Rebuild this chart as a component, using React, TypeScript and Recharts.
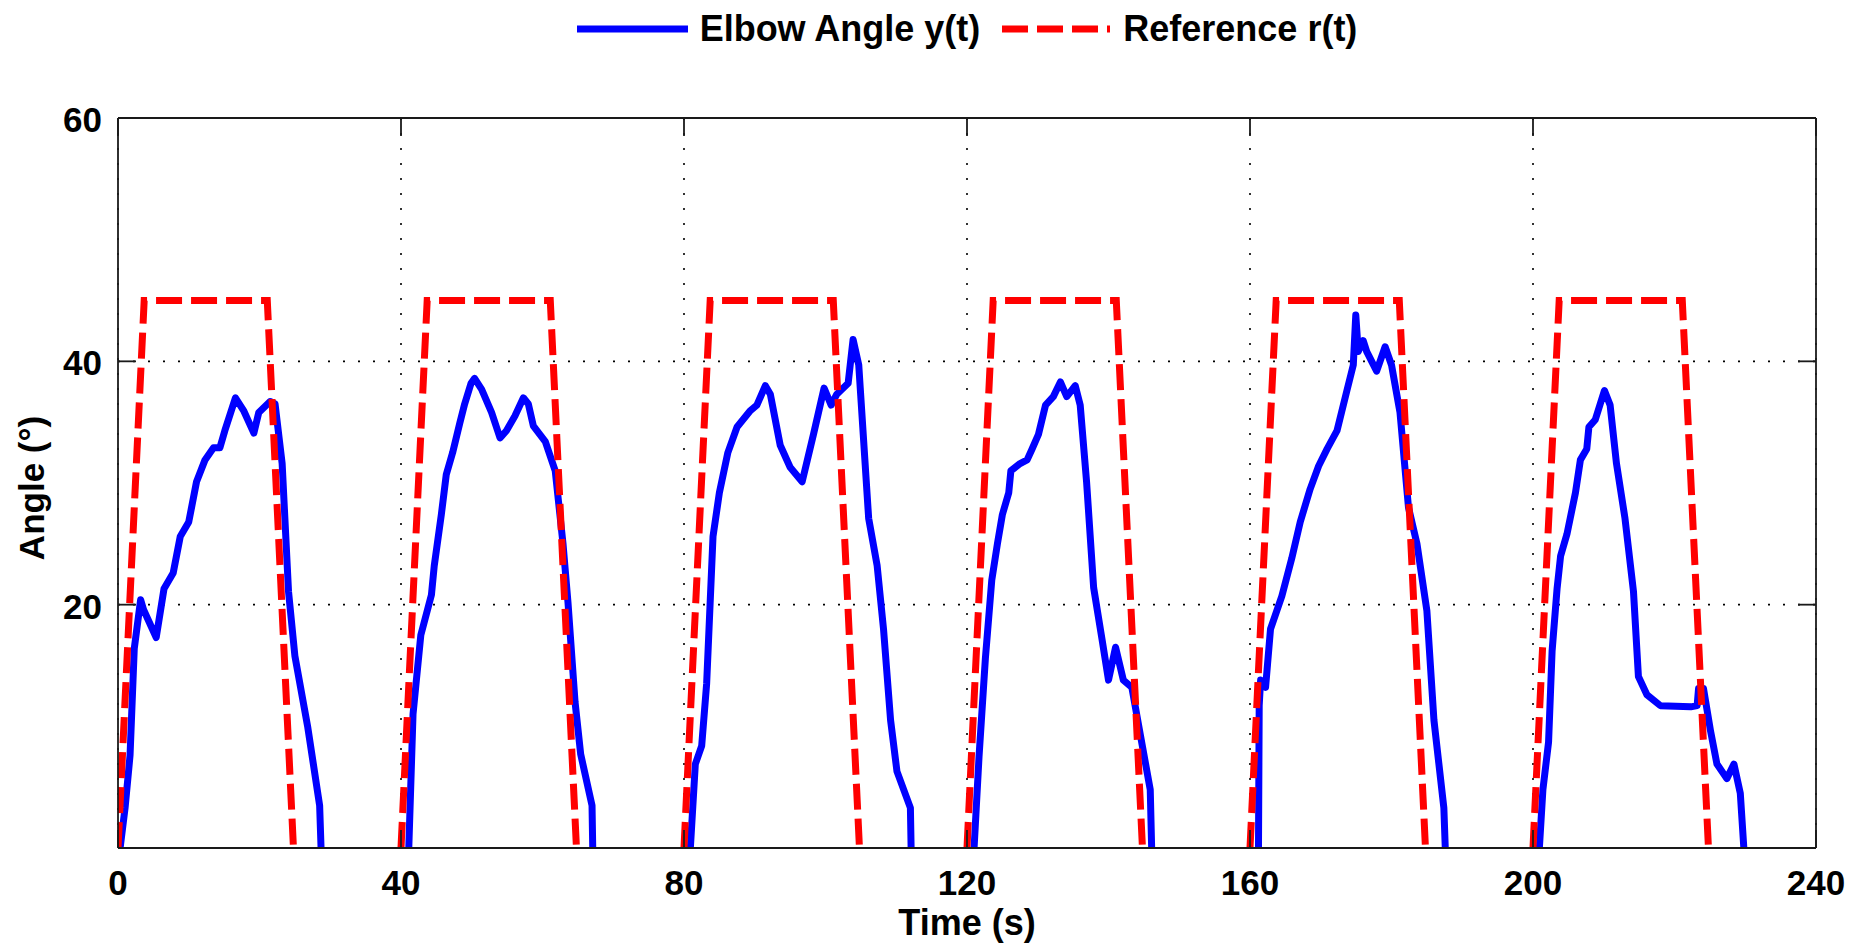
import React from 'react';
import { LineChart, Line, XAxis, YAxis, CartesianGrid, Legend } from 'recharts';

// ---- axis ticks ----
const xTicks = [0, 40, 80, 120, 160, 200, 240];
const yTicks = [0, 20, 40, 60];

// ---- Elbow Angle y(t), one pair of arrays per movement cycle ----
const cycle1Time = [0.3, 1.0, 1.7, 2.3, 3.2, 3.6, 5.4, 6.5, 7.8, 8.8, 10.0, 11.1, 12.3, 13.5, 14.4, 15.1, 16.6, 17.8, 19.2, 19.9, 21.5, 22.2, 23.2, 24.1, 25.0, 26.8, 28.5, 28.7];
const cycle1Angle = [0, 3.3, 7.6, 16.4, 20.4, 19.6, 17.3, 21.3, 22.6, 25.6, 26.8, 30.1, 31.9, 32.9, 32.9, 34.3, 37.0, 35.9, 34.1, 35.8, 36.7, 36.5, 31.6, 21.1, 15.8, 10.0, 3.5, 0];

const cycle2Time = [41.1, 41.7, 42.8, 44.3, 44.7, 45.7, 46.4, 47.3, 48.3, 49.0, 49.9, 50.4, 51.4, 52.8, 54.0, 54.9, 56.1, 57.3, 58.0, 58.7, 60.4, 61.8, 62.9, 63.6, 64.6, 65.4, 67.0, 67.1];
const cycle2Angle = [0, 11.0, 17.5, 20.8, 23.2, 27.4, 30.7, 32.5, 34.9, 36.5, 38.2, 38.6, 37.7, 35.8, 33.7, 34.3, 35.5, 37.0, 36.5, 34.7, 33.4, 31.0, 25.0, 20.2, 12.0, 7.7, 3.5, 0];

const cycle3Time = [80.9, 81.6, 82.5, 83.2, 84.1, 85.0, 86.2, 87.5, 89.3, 90.3, 91.5, 92.2, 93.6, 95.0, 96.7, 98.3, 99.8, 100.8, 101.6, 103.2, 103.9, 104.7, 106.1, 107.3, 108.2, 109.2, 110.1, 112.0, 112.1];
const cycle3Angle = [0, 6.9, 8.4, 13.5, 25.6, 29.2, 32.5, 34.6, 35.9, 36.4, 38.0, 37.3, 33.1, 31.3, 30.1, 34.0, 37.8, 36.4, 37.3, 38.2, 41.8, 39.7, 27.1, 23.2, 18.0, 10.5, 6.3, 3.3, 0];

const cycle4Time = [121.0, 121.7, 122.6, 123.5, 124.3, 125.0, 125.9, 126.2, 127.5, 128.5, 129.2, 130.1, 131.1, 132.2, 133.2, 134.1, 135.3, 136.0, 136.9, 137.9, 139.1, 140.0, 141.0, 142.1, 143.3, 144.5, 145.9, 146.1];
const cycle4Angle = [0, 7.5, 15.6, 22.0, 25.0, 27.4, 29.2, 31.0, 31.6, 31.9, 32.8, 34.0, 36.4, 37.1, 38.3, 37.1, 38.0, 36.4, 30.1, 21.4, 17.1, 13.8, 16.5, 13.8, 13.2, 9.3, 4.8, 0];

const cycle5Time = [161.2, 161.3, 161.5, 162.2, 162.9, 164.5, 165.9, 167.1, 168.5, 169.7, 170.9, 172.3, 173.7, 174.6, 174.95, 175.3, 176.0, 176.5, 177.9, 179.1, 180.0, 181.2, 182.4, 183.6, 185.0, 186.0, 187.4, 187.6];
const cycle5Angle = [0, 11.7, 13.8, 13.2, 18.0, 20.7, 23.8, 26.8, 29.5, 31.4, 32.8, 34.3, 37.6, 39.7, 43.8, 40.8, 41.7, 40.8, 39.2, 41.2, 39.7, 35.8, 28.0, 25.0, 19.5, 10.5, 3.3, 0];

const cycle6Time = [200.9, 201.4, 202.2, 202.7, 203.4, 203.9, 204.8, 206.0, 206.7, 207.6, 207.9, 208.8, 210.1, 210.9, 211.8, 213.0, 214.2, 214.9, 216.1, 218.0, 222.3, 223.2, 223.4, 224.1, 225.1, 226.0, 227.4, 228.4, 229.3, 229.8];
const cycle6Angle = [0, 4.8, 8.7, 16.2, 21.3, 24.0, 25.8, 29.2, 31.9, 32.8, 34.6, 35.2, 37.6, 36.4, 31.6, 27.1, 21.1, 14.1, 12.6, 11.7, 11.6, 11.7, 13.1, 13.1, 9.6, 6.9, 5.7, 6.9, 4.5, 0];

// ---- Reference r(t), trapezoid per cycle ----
const refCycle1Time = [0, 3.7, 21.1, 24.8];
const refCycle2Time = [40, 43.7, 61.1, 64.8];
const refCycle3Time = [80, 83.7, 101.1, 104.8];
const refCycle4Time = [120, 123.7, 141.1, 144.8];
const refCycle5Time = [160, 163.7, 181.1, 184.8];
const refCycle6Time = [200, 203.7, 221.1, 224.8];
const refCycleAngle = [0, 45, 45, 0];

type Pt = { t: number; v: number | null };

function buildSeries(times: number[][], values: number[][]): Pt[] {
  const out: Pt[] = [];
  times.forEach((ts, i) => {
    ts.forEach((t, j) => out.push({ t, v: values[i][j] }));
    out.push({ t: ts[ts.length - 1] + 0.5, v: null });
  });
  return out;
}

const elbowData = buildSeries(
  [cycle1Time, cycle2Time, cycle3Time, cycle4Time, cycle5Time, cycle6Time],
  [cycle1Angle, cycle2Angle, cycle3Angle, cycle4Angle, cycle5Angle, cycle6Angle]
);
const refData = buildSeries(
  [refCycle1Time, refCycle2Time, refCycle3Time, refCycle4Time, refCycle5Time, refCycle6Time],
  [refCycleAngle, refCycleAngle, refCycleAngle, refCycleAngle, refCycleAngle, refCycleAngle]
);

const FONT = '"Liberation Sans", Arial, Helvetica, sans-serif';
const AXIS_COLOR = '#1a1a1a';
const TICK_COLOR = '#1a1a1a';
const TICK_W = 1.8;
const TICK_LEN = 18;

const W = 1850;
const H = 948;
const PLOT_TOP = 118;
const PLOT_BOTTOM = 848;
const PLOT_LEFT = 118;
const PLOT_RIGHT = 1816;
const X_AXIS_H = 60;

const BottomTick = (props: any) => {
  const { x, payload } = props;
  return (
    <g>
      <line x1={x} y1={PLOT_BOTTOM} x2={x} y2={PLOT_BOTTOM - TICK_LEN} stroke={TICK_COLOR} strokeWidth={TICK_W} />
      <text x={x} y={PLOT_BOTTOM + 47} textAnchor="middle" fontFamily={FONT} fontWeight="bold" fontSize={35} fill="#000">
        {payload.value}
      </text>
    </g>
  );
};

const TopTick = (props: any) => {
  const { x } = props;
  return <line x1={x} y1={PLOT_TOP} x2={x} y2={PLOT_TOP + TICK_LEN} stroke={TICK_COLOR} strokeWidth={TICK_W} />;
};

const LeftTick = (props: any) => {
  const { y, payload } = props;
  return (
    <g>
      <line x1={PLOT_LEFT} y1={y} x2={PLOT_LEFT + TICK_LEN} y2={y} stroke={TICK_COLOR} strokeWidth={TICK_W} />
      {payload.value !== 0 && (
        <text x={PLOT_LEFT - 16} y={y + 14} textAnchor="end" fontFamily={FONT} fontWeight="bold" fontSize={35} fill="#000">
          {payload.value}
        </text>
      )}
    </g>
  );
};

const RightTick = (props: any) => {
  const { y } = props;
  return <line x1={PLOT_RIGHT} y1={y} x2={PLOT_RIGHT - TICK_LEN} y2={y} stroke={TICK_COLOR} strokeWidth={TICK_W} />;
};

const XLabel = () => {
  const cx = (PLOT_LEFT + PLOT_RIGHT) / 2;
  return (
    <text x={cx} y={PLOT_BOTTOM + 87} textAnchor="middle" fontFamily={FONT} fontWeight="bold" fontSize={36} fill="#000">
      Time (s)
    </text>
  );
};

const YLabel = () => {
  const cy = 488;
  const x = 44;
  return (
    <text x={x} y={cy} transform={`rotate(-90, ${x}, ${cy})`} textAnchor="middle" fontFamily={FONT} fontWeight="bold" fontSize={35} fill="#000">
      Angle (°)
    </text>
  );
};

const LegendContent = () => (
  <div
    style={{
      display: 'flex',
      justifyContent: 'center',
      alignItems: 'center',
      height: 40,
      lineHeight: '40px',
      fontFamily: FONT,
      fontWeight: 'bold',
      fontSize: 36,
      color: '#000',
      whiteSpace: 'nowrap',
    }}
  >
    <svg width={111} height={10} style={{ display: 'block' }}>
      <line x1={0} y1={5} x2={111} y2={5} stroke="#0000ff" strokeWidth={7} />
    </svg>
    <span style={{ marginLeft: 12 }}>Elbow Angle y(t)</span>
    <svg width={108} height={10} style={{ display: 'block', marginLeft: 22 }}>
      <line x1={0} y1={5} x2={108} y2={5} stroke="#ff0000" strokeWidth={7} strokeDasharray="26 9" />
    </svg>
    <span style={{ marginLeft: 13 }}>Reference r(t)</span>
  </div>
);

export default function App() {
  return (
    <div style={{ position: 'absolute', left: 0, top: 0, width: W, height: H, background: '#fff' }}>
      <LineChart
        width={W}
        height={H}
        margin={{ top: PLOT_TOP - 1, right: W - PLOT_RIGHT - 1, bottom: H - PLOT_BOTTOM - X_AXIS_H, left: 0 }}
        style={{ background: '#fff' }}
      >
        <CartesianGrid xAxisId="bottom" yAxisId="left" stroke="#000" strokeWidth={1.6} strokeDasharray="2 13" />
        <XAxis
          xAxisId="bottom"
          dataKey="t"
          type="number"
          domain={[0, 240]}
          ticks={xTicks}
          allowDataOverflow
          height={X_AXIS_H}
          tickLine={false}
          tick={<BottomTick />}
          axisLine={{ stroke: AXIS_COLOR, strokeWidth: 1.8 }}
          label={<XLabel />}
          interval={0}
        />
        <XAxis
          xAxisId="top"
          orientation="top"
          dataKey="t"
          type="number"
          domain={[0, 240]}
          ticks={xTicks}
          allowDataOverflow
          height={1}
          tickLine={false}
          tick={<TopTick />}
          axisLine={{ stroke: AXIS_COLOR, strokeWidth: 1.8 }}
          interval={0}
        />
        <YAxis
          yAxisId="left"
          type="number"
          domain={[0, 60]}
          ticks={yTicks}
          allowDataOverflow
          width={PLOT_LEFT}
          tickLine={false}
          tick={<LeftTick />}
          axisLine={{ stroke: AXIS_COLOR, strokeWidth: 1.8 }}
          label={<YLabel />}
          interval={0}
        />
        <YAxis
          yAxisId="right"
          orientation="right"
          type="number"
          domain={[0, 60]}
          ticks={yTicks}
          allowDataOverflow
          width={1}
          tickLine={false}
          tick={<RightTick />}
          axisLine={{ stroke: AXIS_COLOR, strokeWidth: 1.8 }}
          interval={0}
        />
        <Legend
          verticalAlign="middle"
          align="center"
          layout="horizontal"
          wrapperStyle={{ position: 'absolute', top: 9, left: PLOT_LEFT, width: PLOT_RIGHT - PLOT_LEFT, height: 40 }}
          content={() => <LegendContent />}
        />
        <Line
          xAxisId="bottom"
          yAxisId="right"
          data={elbowData}
          dataKey="v"
          name="Elbow Angle y(t)"
          type="linear"
          stroke="#0000ff"
          strokeWidth={7}
          strokeLinejoin="round"
          strokeLinecap="round"
          dot={false}
          activeDot={false}
          connectNulls={false}
          isAnimationActive={false}
        />
        <Line
          xAxisId="top"
          yAxisId="left"
          data={refData}
          dataKey="v"
          name="Reference r(t)"
          type="linear"
          stroke="#ff0000"
          strokeWidth={7}
          strokeDasharray="26 9"
          dot={false}
          activeDot={false}
          connectNulls={false}
          isAnimationActive={false}
        />
      </LineChart>
    </div>
  );
}
